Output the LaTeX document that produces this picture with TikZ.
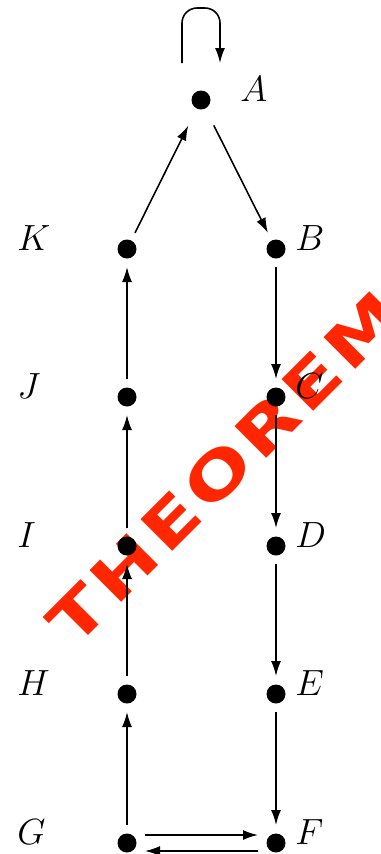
\documentclass[tikz,border=0pt]{standalone}
\usepackage{fontspec}
\usetikzlibrary{arrows.meta}
\newfontfamily\stampfont[FakeStretch=1.3, LetterSpace=8]{DejaVu Sans}
\definecolor{stampred}{RGB}{255,38,0}

\begin{document}
\begin{tikzpicture}[
    dot/.style={circle, fill=black, inner sep=0pt, minimum size=0.38cm, outer sep=0.17cm},
    lbl/.style={anchor=base west, inner sep=0pt, font=\fontsize{20}{24}\selectfont},
    arrow/.style={-{Latex[length=0.3cm, width=0.2cm]}, line width=0.9pt},
    stamp/.style={text=stampred, font=\stampfont\bfseries\fontsize{35}{39}\selectfont, rotate=45}
]
    \useasboundingbox (0,0) rectangle (7.62,-17.08);

    % Watermark
    \node[stamp] (stamp) at (4.50,-9.36) {THEOREM};

    % Nodes
    \node[dot, outer sep=0.38cm] (A) at (4.02,-2.00) {};
    \node[dot] (K) at (2.54,-4.98) {};
    \node[dot] (B) at (5.52,-4.98) {};
    \node[dot] (J) at (2.54,-7.94) {};
    \node[dot] (C) at (5.52,-7.94) {};
    \node[dot] (I) at (2.54,-10.92) {};
    \node[dot] (D) at (5.52,-10.92) {};
    \node[dot] (H) at (2.54,-13.88) {};
    \node[dot] (E) at (5.52,-13.88) {};
    \node[dot] (G) at (2.54,-16.86) {};
    \node[dot] (F) at (5.52,-16.86) {};

    % Labels
    \node[lbl] (Alab) at (4.80,-2.03) {$A$};
    \node[lbl] (Klab) at (0.34,-5.00) {$K$};
    \node[lbl] (Blab) at (5.90,-5.00) {$B$};
    \node[lbl] (Jlab) at (0.34,-7.96) {$J$};
    \node[lbl] (Clab) at (5.90,-7.96) {$C$};
    \node[lbl] (Ilab) at (0.34,-10.94) {$I$};
    \node[lbl] (Dlab) at (5.90,-10.94) {$D$};
    \node[lbl] (Hlab) at (0.34,-13.90) {$H$};
    \node[lbl] (Elab) at (5.90,-13.90) {$E$};
    \node[lbl] (Glab) at (0.34,-16.88) {$G$};
    \node[lbl] (Flab) at (5.90,-16.88) {$F$};

    % Self loop on A
    \draw[arrow, rounded corners=0.3cm] ([shift={(-0.38,0.74)}]A.center) -- ++(0,1.1) -- ++(0.76,0) -- ++(0,-1.1);

    % Right column going down
    \draw[arrow] (A) -- (B);
    \draw[arrow] (B) -- (C);
    \draw[arrow] (C) -- (D);
    \draw[arrow] (D) -- (E);
    \draw[arrow] (E) -- (F);

    % Bottom pair
    \draw[arrow, transform canvas={yshift=0.16cm}] (G) -- (F);
    \draw[arrow, transform canvas={yshift=-0.16cm}] (F) -- (G);

    % Left column going up
    \draw[arrow] (G) -- (H);
    \draw[arrow] (H) -- (I);
    \draw[arrow] (I) -- (J);
    \draw[arrow] (J) -- (K);
    \draw[arrow] (K) -- (A);
\end{tikzpicture}
\end{document}
